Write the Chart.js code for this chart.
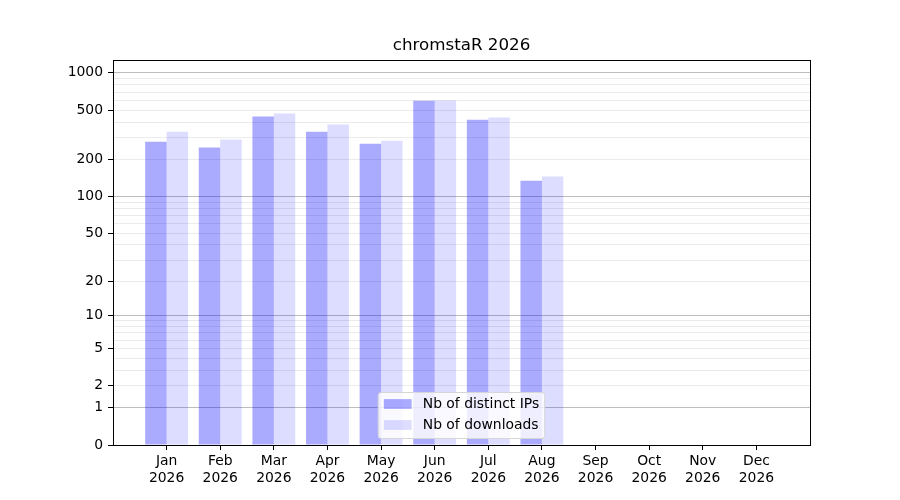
<!DOCTYPE html>
<html>
<head>
<meta charset="utf-8">
<script src="https://cdn.jsdelivr.net/npm/chart.js@4/dist/chart.umd.min.js"></script>
<style>
  body { margin: 0; background: #ffffff; }
  canvas { display: block; }
</style>
</head>
<body>
<canvas id="myChart" width="900" height="500"></canvas>
<script>
// chart data
const chartTitle = 'chromstaR 2026';
const months = ['Jan', 'Feb', 'Mar', 'Apr', 'May', 'Jun', 'Jul', 'Aug', 'Sep', 'Oct', 'Nov', 'Dec'];
const yearLabel = '2026';
const distinctIPs = [278, 249, 444, 335, 268, 596, 419, 134, null, null, null, null];
const downloads = [335, 289, 469, 382, 283, 599, 436, 145, null, null, null, null];
const seriesNames = ['Nb of distinct IPs', 'Nb of downloads'];

// y axis is log10(1 + value)
const yTop = 1270;
const yTickValues = [0, 1, 2, 3, 4, 5, 6, 7, 8, 9, 10, 20, 30, 40, 50, 60, 70, 80, 90,
                     100, 200, 300, 400, 500, 600, 700, 800, 900, 1000];
const yLabelled = [0, 1, 2, 5, 10, 20, 50, 100, 200, 500, 1000];
const yMajor = [1, 10, 100, 1000];

const ipColor = 'rgba(0, 0, 255, 0.335)';
const dlColor = 'rgba(0, 0, 255, 0.135)';
const fontFamily = "'DejaVu Sans', sans-serif";

function toY(v) {
    return Math.log10(1 + v);
}

function toPoints(values) {
    return values.map((v, i) => ({ x: i, y: v == null ? null : toY(v) }));
}

// title, full frame and legend drawn like matplotlib does
const framePlugin = {
    id: 'frame',
    afterDraw(chart) {
        const ctx = chart.ctx;
        const a = chart.chartArea;
        ctx.save();

        ctx.strokeStyle = '#000000';
        ctx.lineWidth = 1;
        ctx.strokeRect(Math.round(a.left) + 0.5, Math.round(a.top) + 0.5,
                       Math.round(a.right - a.left), Math.round(a.bottom - a.top));

        ctx.fillStyle = '#000000';
        ctx.font = '16.7px ' + fontFamily;
        ctx.textAlign = 'center';
        ctx.textBaseline = 'middle';
        ctx.fillText(chartTitle, (a.left + a.right) / 2, 46);

        // legend, lower center
        ctx.font = '13.9px ' + fontFamily;
        const textW = Math.max(...seriesNames.map(n => ctx.measureText(n).width));
        const w = 5.6 + 27.8 + 11.1 + textW + 5.6;
        const h = 46;
        const left = (a.left + a.right) / 2 - w / 2;
        const top = a.bottom - 6.5 - h;
        ctx.beginPath();
        ctx.roundRect(left, top, w, h, 3);
        ctx.fillStyle = 'rgba(255, 255, 255, 0.8)';
        ctx.fill();
        ctx.strokeStyle = '#d6d6d6';
        ctx.stroke();

        const colors = [ipColor, dlColor];
        seriesNames.forEach((name, i) => {
            const cy = top + 11.5 + i * 21;
            ctx.fillStyle = colors[i];
            ctx.fillRect(left + 5.6, cy - 4.9, 27.8, 9.8);
            ctx.fillStyle = '#000000';
            ctx.textAlign = 'left';
            ctx.textBaseline = 'middle';
            ctx.fillText(name, left + 44.5, cy);
        });
        ctx.restore();
    }
};

document.addEventListener('DOMContentLoaded', function() {
    const ctx = document.getElementById('myChart').getContext('2d');

    new Chart(ctx, {
        type: 'bar',
        data: {
            datasets: [
                {
                    label: seriesNames[0],
                    data: toPoints(distinctIPs),
                    backgroundColor: ipColor,
                    borderWidth: 0,
                    categoryPercentage: 0.8,
                    barPercentage: 1.0
                },
                {
                    label: seriesNames[1],
                    data: toPoints(downloads),
                    backgroundColor: dlColor,
                    borderWidth: 0,
                    categoryPercentage: 0.8,
                    barPercentage: 1.0
                }
            ]
        },
        options: {
            responsive: false,
            animation: false,
            devicePixelRatio: 1,
            layout: {
                padding: { top: 60, right: 90, bottom: 0, left: 0 }
            },
            scales: {
                x: {
                    type: 'linear',
                    min: -1,
                    max: months.length,
                    offset: false,
                    afterBuildTicks: function(scale) {
                        scale.ticks = months.map((_, i) => ({ value: i }));
                    },
                    afterFit: function(scale) {
                        scale.height = 55;
                    },
                    grid: {
                        offset: false,
                        drawOnChartArea: false,
                        drawTicks: true,
                        tickLength: 5,
                        tickColor: '#000000'
                    },
                    border: { color: '#000000', width: 1 },
                    ticks: {
                        autoSkip: false,
                        maxRotation: 0,
                        padding: 3,
                        color: '#000000',
                        font: { family: fontFamily, size: 13.9 },
                        callback: function(value) {
                            return [months[value], yearLabel];
                        }
                    }
                },
                y: {
                    type: 'linear',
                    min: 0,
                    max: toY(yTop),
                    afterBuildTicks: function(scale) {
                        scale.ticks = yTickValues.map(v => ({ value: toY(v) }));
                    },
                    afterFit: function(scale) {
                        scale.width = 113;
                    },
                    grid: {
                        color: function(c) {
                            const v = yTickValues[c.index];
                            return yMajor.includes(v) ? '#bdbdbd' : '#ebebeb';
                        },
                        tickColor: function(c) {
                            const v = yTickValues[c.index];
                            return yLabelled.includes(v) ? '#000000' : 'rgba(0,0,0,0)';
                        },
                        tickLength: 5,
                        lineWidth: 1
                    },
                    border: { color: '#000000', width: 1 },
                    ticks: {
                        autoSkip: false,
                        padding: 5,
                        color: '#000000',
                        font: { family: fontFamily, size: 13.9 },
                        callback: function(value, index) {
                            const v = yTickValues[index];
                            return yLabelled.includes(v) ? String(v) : '';
                        }
                    }
                }
            },
            plugins: {
                legend: { display: false },
                title: { display: false },
                tooltip: { enabled: false }
            }
        },
        plugins: [framePlugin]
    });
});
</script>
</body>
</html>
